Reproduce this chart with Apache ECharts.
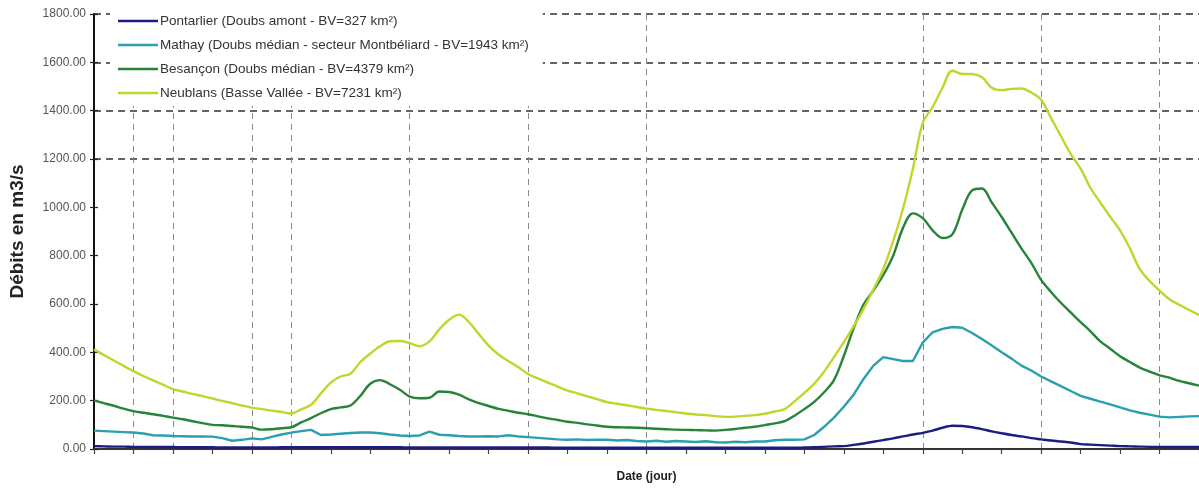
<!DOCTYPE html>
<html>
<head>
<meta charset="utf-8">
<script src="https://cdn.jsdelivr.net/npm/echarts@6/dist/echarts.min.js"></script>
<style>
  html, body { margin: 0; padding: 0; background: #ffffff; }
  #chart { width: 1199px; height: 488px; }
</style>
</head>
<body>
<div id="chart"></div>
<script>
// Débits journaliers du Doubs : 4 stations, pas de 6 h (4 valeurs par jour)
const STEPS_PER_DAY = 4;

const stationNames = [
  'Pontarlier (Doubs amont - BV=327 km²)',
  'Mathay (Doubs médian - secteur Montbéliard - BV=1943 km²)',
  'Besançon (Doubs médian - BV=4379 km²)',
  'Neublans (Basse Vallée - BV=7231 km²)'
];

const stationColors = ['#1c1c82', '#2a9fae', '#26843a', '#c2d52c'];

// Jours marqués par un trait vertical pointillé
const markedDays = [1, 2, 4, 5, 8, 11, 14, 21, 24, 27];

// Graduations de l'axe des débits (m3/s)
const yTicks = [0, 200, 400, 600, 800, 1000, 1200, 1400, 1600, 1800];

// Débits en m3/s
const pontarlier = [
  12, 11, 10, 10, 9, 9, 8, 8, 8, 7, 7,
  7, 7, 6, 6, 6, 6, 6, 6, 7, 7,
  7, 7, 7, 7, 7, 7, 7, 7, 7, 7,
  7, 6, 6, 6, 6, 6, 6, 6, 6, 6,
  6, 6, 6, 6, 6, 6, 5, 5, 5, 5,
  5, 5, 5, 5, 5, 5, 5, 5, 5, 5,
  5, 5, 5, 5, 5, 5, 5, 5, 5, 5,
  5, 6, 7, 9, 11, 12, 17, 23, 30, 37,
  44, 52, 60, 67, 76, 88, 96, 95, 90, 82,
  73, 65, 58, 52, 45, 40, 35, 31, 27, 20,
  18, 16, 14, 12, 11, 10, 9, 9, 8, 8,
  8, 8
];

const mathay = [
  76, 74, 72, 70, 68, 64, 57, 56, 54, 53, 52,
  52, 51, 45, 34, 38, 44, 40, 50, 60, 68,
  74, 79, 58, 60, 63, 66, 68, 68, 65, 60,
  56, 54, 56, 72, 59, 57, 54, 52, 52, 53,
  52, 57, 52, 49, 46, 43, 40, 38, 40, 37,
  39, 38, 35, 37, 33, 31, 34, 30, 33, 31,
  29, 32, 28, 27, 30, 28, 31, 31, 36, 38,
  38, 40, 58, 92, 130, 175, 225, 290, 345, 380,
  372, 364, 364, 440, 483, 497, 505, 502, 480, 455,
  428, 400, 374, 345, 325, 300, 280, 260, 240, 220,
  208, 196, 185, 172, 160, 150, 142, 134, 131, 133,
  135, 136
];

const besancon = [
  201, 190, 179, 167, 157, 150, 144, 137, 130, 123, 115,
  107, 100, 98, 95, 92, 89, 80, 82, 86, 90,
  110, 128, 148, 165, 172, 180, 220, 270, 285, 268,
  245, 217, 210, 212, 238, 236, 225, 205, 190, 178,
  166, 158, 150, 144, 135, 127, 120, 113, 108, 102,
  97, 92, 90, 89, 88, 86, 84, 82, 80, 79,
  78, 77, 76, 79, 83, 88, 92, 99, 106, 115,
  138, 165, 195, 235, 285, 385, 500, 598, 656, 720,
  800, 915, 975, 955, 905, 873, 888, 990, 1070, 1078,
  1020, 960, 895, 830, 770, 700, 650, 605, 565, 525,
  487, 445, 415, 384, 360, 337, 320, 305, 295, 282,
  272, 262
];

const neublans = [
  411, 389, 366, 344, 322, 302, 284, 266, 248, 238, 228,
  219, 209, 199, 190, 180, 171, 165, 159, 153, 147,
  164, 183, 230, 275, 300, 312, 360, 395, 425, 446,
  447, 438, 425, 445, 495, 535, 556, 525, 476, 428,
  391, 364, 339, 310, 292, 275, 258, 242, 230, 218,
  206, 194, 187, 181, 174, 167, 162, 157, 152, 147,
  143, 140, 136, 133, 134, 137, 140, 146, 155, 165,
  197, 232, 270, 320, 380, 442, 508, 580, 660, 745,
  860, 995, 1160, 1350, 1415, 1495, 1565, 1552, 1552, 1538,
  1495, 1485, 1490, 1492, 1475, 1445, 1370, 1295, 1220, 1160,
  1080, 1020, 961, 905, 830, 744, 695, 655, 620, 597,
  575, 555
];

const seriesValues = [pontarlier, mathay, besancon, neublans];
const seriesSmooth = [0.3, false, 0.35, 0.35];

const timeSteps = pontarlier.map((_, i) => String(i));
const markedSteps = markedDays.map(d => d * STEPS_PER_DAY);

// Seuls les paliers 1200 à 1800 portent un trait horizontal
const hLineColors = yTicks.map(v => (v >= 1200 ? '#333333' : 'rgba(0,0,0,0)'));

const chart = echarts.init(document.getElementById('chart'), null, { renderer: 'canvas' });

chart.setOption({
  animation: false,
  backgroundColor: '#ffffff',
  textStyle: { fontFamily: 'Liberation Sans, Arial, sans-serif' },
  grid: { left: 92, right: 0, top: 14, bottom: 32, containLabel: false },
  legend: {
    data: stationNames,
    orient: 'vertical',
    left: 110,
    top: 0,
    padding: [14, 14, 6, 8],
    backgroundColor: '#ffffff',
    icon: 'rect',
    itemWidth: 40,
    itemHeight: 2.5,
    itemGap: 10,
    textStyle: { fontSize: 13.5, color: '#333333', lineHeight: 14, padding: [0, 0, 0, -3] },
    z: 10
  },
  xAxis: {
    type: 'category',
    data: timeSteps,
    boundaryGap: false,
    name: 'Date (jour)',
    nameLocation: 'middle',
    nameGap: 22,
    nameTextStyle: { fontSize: 12, fontWeight: 'bold', color: '#222222' },
    axisLine: { lineStyle: { color: '#333333', width: 2 } },
    axisTick: {
      interval: STEPS_PER_DAY - 1,
      length: 5,
      lineStyle: { color: '#444444', width: 1.2 }
    },
    axisLabel: { show: false },
    splitLine: {
      show: true,
      interval: (idx) => markedSteps.indexOf(idx) !== -1,
      lineStyle: { color: '#8a8a8a', width: 1, type: [6, 5] }
    }
  },
  yAxis: [
    {
      type: 'value',
      min: yTicks[0],
      max: yTicks[yTicks.length - 1],
      interval: yTicks[1] - yTicks[0],
      name: 'Débits en m3/s',
      nameLocation: 'middle',
      nameGap: 67,
      nameTextStyle: { fontSize: 19, fontWeight: 'bold', color: '#222222' },
      axisLine: { show: true, lineStyle: { color: '#111111', width: 2 } },
      axisTick: { show: true, length: 4, lineStyle: { color: '#222222', width: 1.2 } },
      axisLabel: {
        fontSize: 12,
        color: '#555555',
        margin: 8,
        formatter: (v) => v.toFixed(2)
      },
      splitLine: {
        show: true,
        lineStyle: { color: hLineColors, width: 1.6, type: [7, 5] }
      }
    },
    {
      // graduations intérieures (repères en croix sur l'axe)
      type: 'value',
      position: 'left',
      min: yTicks[0],
      max: yTicks[yTicks.length - 1],
      interval: yTicks[1] - yTicks[0],
      axisLine: { show: false },
      axisTick: { show: true, inside: true, length: 4, lineStyle: { color: '#222222', width: 1.2 } },
      axisLabel: { show: false },
      splitLine: { show: false }
    }
  ],
  series: stationNames.map((name, k) => ({
    name: name,
    type: 'line',
    data: seriesValues[k],
    yAxisIndex: 0,
    smooth: seriesSmooth[k],
    symbol: 'none',
    lineStyle: { color: stationColors[k], width: 2.4 },
    itemStyle: { color: stationColors[k] },
    z: 2 + k
  }))
});
</script>
</body>
</html>
